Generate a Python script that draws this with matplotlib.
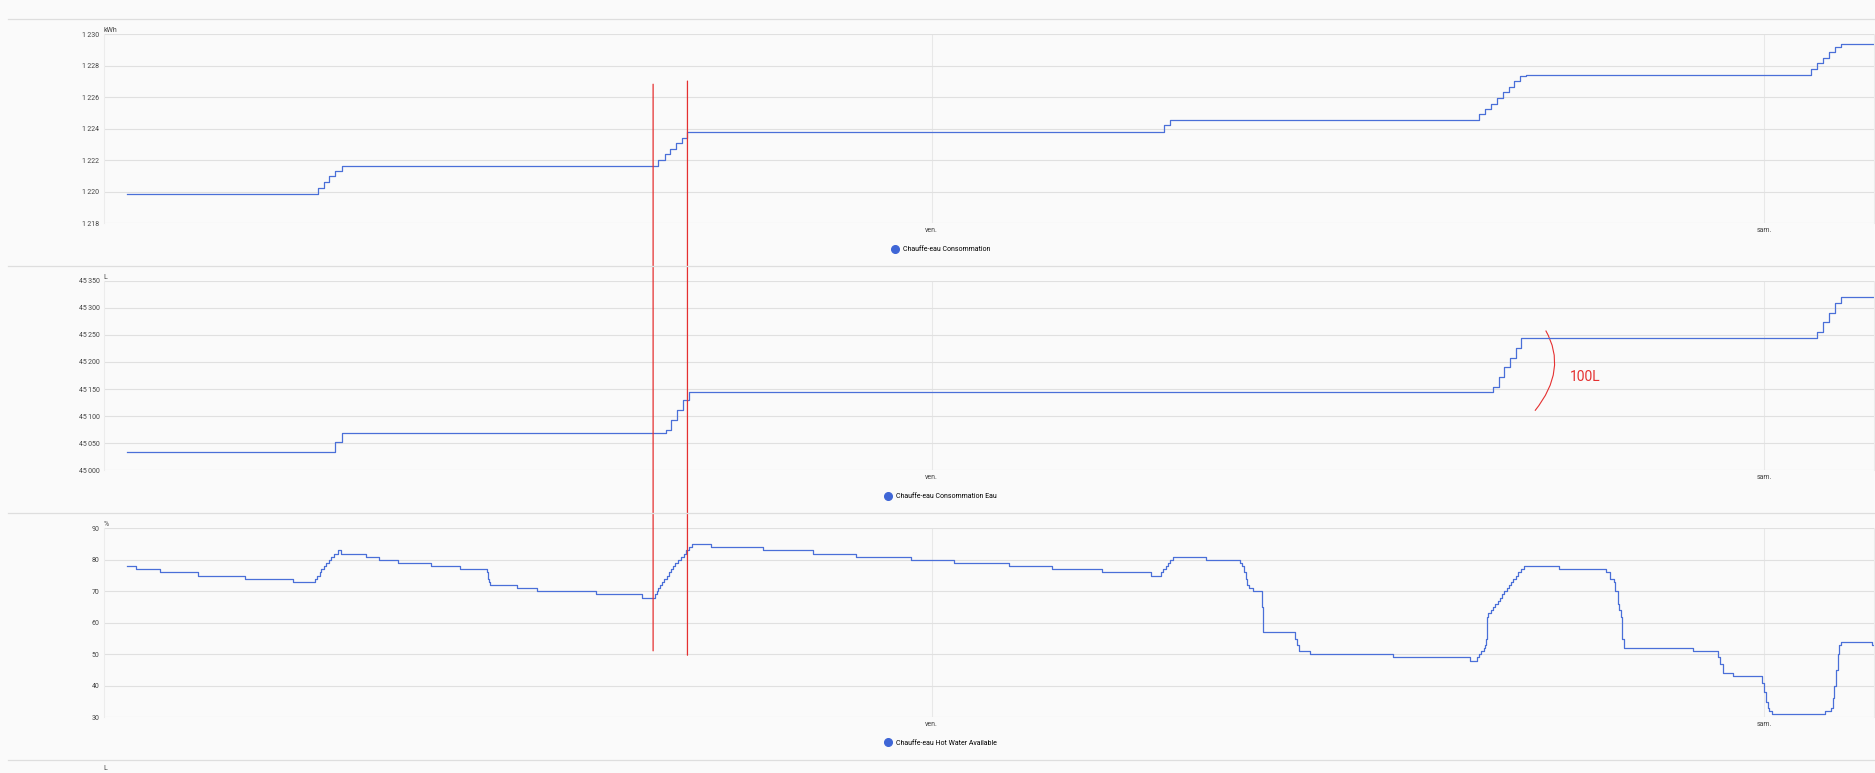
import matplotlib.pyplot as plt
from matplotlib.lines import Line2D
from matplotlib.patches import ConnectionPatch, PathPatch
from matplotlib.path import Path
from matplotlib.ticker import FuncFormatter

plt.rcParams['font.family'] = ['Roboto', 'DejaVu Sans']

# time in hours relative to Friday 00:00 ("ven.")
X_START, X_END = -23.87, 27.16
DAY_TICKS = [0, 24]
DAY_LABELS = ['ven.', 'sam.']

# Chauffe-eau Consommation (kWh)
energy_t = [-23.19, -17.69, -17.53, -17.36, -17.19, -17.01,
            -7.88, -7.69, -7.54, -7.37, -7.20, -7.04,
            6.69, 6.87,
            15.79, 15.96, 16.13, 16.30, 16.47, 16.63, 16.80, 16.97, 17.13,
            25.36, 25.53, 25.70, 25.87, 26.05, 26.22]
energy_v = [1219.86, 1220.26, 1220.60, 1220.98, 1221.30, 1221.64,
            1222.00, 1222.38, 1222.72, 1223.08, 1223.42, 1223.78,
            1224.22, 1224.56,
            1224.92, 1225.26, 1225.60, 1225.96, 1226.32, 1226.65, 1227.02, 1227.35, 1227.44,
            1227.80, 1228.16, 1228.52, 1228.86, 1229.22, 1229.41]

# Chauffe-eau Consommation Eau (L)
water_t = [-23.19, -17.20, -17.00,
           -7.67, -7.50, -7.33, -7.17, -6.99,
           16.17, 16.34, 16.51, 16.68, 16.83, 17.00,
           25.53, 25.70, 25.86, 26.03, 26.20]
water_v = [45033, 45053, 45068,
           45075, 45092, 45111, 45129, 45144,
           45154, 45172, 45190, 45208, 45226, 45245,
           45255, 45273, 45290, 45308, 45320]

# Chauffe-eau Hot Water Available (%)
hot_t = [-23.19, -22.95, -22.25, -21.15, -19.78, -18.41,
         -17.77, -17.71, -17.64, -17.59, -17.53, -17.46, -17.38, -17.31, -17.23, -17.11, -17.02,
         -16.30, -15.92, -15.38, -14.43, -13.61,
         -12.83, -12.80, -12.78, -12.75, -12.72, -11.95, -11.37, -9.67, -8.35,
         -7.98, -7.93, -7.88, -7.82, -7.77, -7.71, -7.64, -7.58, -7.51, -7.45, -7.39, -7.31,
         -7.23, -7.15, -7.08, -7.00, -6.91,
         -6.35, -4.85, -3.41, -2.18, -0.60, 0.63, 2.24, 3.46, 4.90, 6.32,
         6.62, 6.68, 6.74, 6.81, 6.87, 6.96, 7.91,
         8.90, 8.94, 9.00, 9.05, 9.09, 9.15, 9.27, 9.52, 9.56,
         10.47, 10.53, 10.59, 10.91, 13.31,
         15.53, 15.73, 15.78, 15.84, 15.91, 15.96, 15.99, 16.00, 16.05, 16.12, 16.18, 16.24,
         16.32, 16.38, 16.45, 16.51, 16.57, 16.63, 16.70, 16.77, 16.83, 16.91, 16.98, 17.07,
         18.07, 19.45, 19.55, 19.66, 19.71, 19.78, 19.82, 19.88, 19.90, 19.97,
         21.95, 22.67, 22.72, 22.80, 23.09,
         23.94, 23.99, 24.04, 24.10, 24.15, 24.21,
         25.76, 25.92, 25.97, 26.02, 26.07, 26.12, 26.16, 26.22, 27.11]
hot_v = [78, 77, 76, 75, 74, 73,
         74, 75, 76, 77, 78, 79, 80, 81, 82, 83, 82,
         81, 80, 79, 78, 77,
         76, 75, 74, 73, 72, 71, 70, 69, 68,
         69, 70, 71, 72, 73, 74, 75, 76, 77, 78, 79, 80,
         81, 82, 83, 84, 85,
         84, 83, 82, 81, 80, 79, 78, 77, 76, 75,
         76, 77, 78, 79, 80, 81, 80,
         79, 78, 76, 74, 72, 71, 70, 65, 57,
         55, 53, 51, 50, 49,
         48, 49, 50, 51, 52, 53, 55, 62, 63, 64, 65, 66,
         67, 68, 69, 70, 71, 72, 73, 74, 75, 76, 77, 78,
         77, 76, 74, 73, 70, 66, 64, 62, 55, 52,
         51, 49, 47, 44, 43,
         41, 38, 35, 33, 32, 31,
         32, 33, 36, 40, 45, 50, 53, 54, 53]

# red hand-drawn marks
marks_t = [-8.03, -7.04]
marks_top = [1226.83, 1227.03]
marks_bottom = [51.1, 49.7]
bracket_t = [17.70, 18.34, 17.39]
bracket_v = [45258, 45186, 45110]
note_t, note_v, note_text = 18.39, 45172, '100L'

BLUE = '#3f66d6'
LINE = '#4a6fd8'
RED = '#e53030'
GRID = '#e0e0e0'
BG = '#fafafa'

W, H = 1875, 773
fig = plt.figure(figsize=(W / 100, H / 100), dpi=100, facecolor=BG)


def fy(py):
    return 1 - py / H


def make_axes(top, bottom):
    ax = fig.add_axes([103.6 / W, fy(bottom), (1873.9 - 103.6) / W, (bottom - top) / H])
    ax.set_facecolor(BG)
    return ax


def thin_thousands(v, _):
    return f'{int(round(v)):,}'.replace(',', '\u2009')


panels = [
    (34.3, 223.3, energy_t, energy_v, (1218, 1230), range(1218, 1231, 2), 'kWh',
     'Chauffe-eau Consommation', 249.7),
    (280.7, 470.3, water_t, water_v, (45000, 45350), range(45000, 45351, 50), 'L',
     'Chauffe-eau Consommation Eau', 496.7),
    (528.3, 717.3, hot_t, hot_v, (30, 90), range(30, 91, 10), '%',
     'Chauffe-eau Hot Water Available', 743.3),
]

axes = []
for top, bottom, t, v, ylim, yticks, unit, name, leg_y in panels:
    ax = make_axes(top, bottom)
    ax.plot(t + [X_END], v + [v[-1]], drawstyle='steps-post', color=LINE, lw=0.9)
    ax.set_xlim(X_START, X_END)
    ax.set_ylim(*ylim)
    ax.set_yticks(list(yticks))
    ax.yaxis.set_major_formatter(FuncFormatter(thin_thousands))
    ax.set_xticks(DAY_TICKS)
    ax.set_xticklabels(DAY_LABELS)
    ax.tick_params(length=0, labelsize=5, colors='#444444', pad=2.5)
    ax.tick_params(axis='y', pad=3)
    ax.grid(axis='y', color=GRID, lw=0.8)
    ax.grid(axis='x', color='#e8e8e8', lw=0.8)
    ax.set_axisbelow(True)
    for side in ('top', 'bottom'):
        ax.spines[side].set_visible(False)
    for side in ('left', 'right'):
        ax.spines[side].set_color('#ececec')
        ax.spines[side].set_linewidth(0.8)
    ax.text(0.0, 1.0, unit, transform=ax.transAxes, ha='left', va='bottom',
            fontsize=5, color='#444444')
    handle = Line2D([], [], ls='none', marker='o', markersize=5.5,
                    markerfacecolor=BLUE, markeredgecolor=BLUE)
    ax.legend([handle], [name], loc='center', bbox_to_anchor=(941.5 / W, fy(leg_y)),
              bbox_transform=fig.transFigure, frameon=False, fontsize=5,
              handlelength=0.6, handletextpad=0.9, borderpad=0)
    axes.append(ax)

ax1, ax2, ax3 = axes

# separators between the stacked cards
for py in (19.3, 266.0, 513.3, 760.0):
    fig.add_artist(Line2D([8 / W, 1], [fy(py), fy(py)], color='#dedede', lw=0.9,
                          transform=fig.transFigure))

# cut-off labels of the neighbouring cards
for tick, lab in zip(DAY_TICKS, DAY_LABELS):
    xf = ax1.transAxes.inverted().transform(ax1.transData.transform((tick, 0)))[0]
    fig.text(103.6 / W + xf * (1873.9 - 103.6) / W, fy(1.5), lab, ha='center', va='bottom',
             fontsize=5, color='#444444')
fig.text(103.6 / W, fy(768.5), 'L', ha='left', va='center', fontsize=5, color='#444444')
fig.text(99 / W, fy(777), '600', ha='right', va='center', fontsize=5, color='#444444')

# red vertical marks across the three panels
for t, y_top, y_bot in zip(marks_t, marks_top, marks_bottom):
    con = ConnectionPatch(xyA=(t, y_top), coordsA=ax1.transData,
                          xyB=(t, y_bot), coordsB=ax3.transData,
                          color=RED, lw=0.9)
    fig.add_artist(con)

# bracket and note on the water panel
bracket = Path(list(zip(bracket_t, bracket_v)), [Path.MOVETO, Path.CURVE3, Path.CURVE3])
ax2.add_patch(PathPatch(bracket, fill=False, edgecolor=RED, lw=0.8))
ax2.text(note_t, note_v, note_text, color=RED, fontsize=10, ha='left', va='center')

fig.savefig('out.png', dpi=100, facecolor=BG)
